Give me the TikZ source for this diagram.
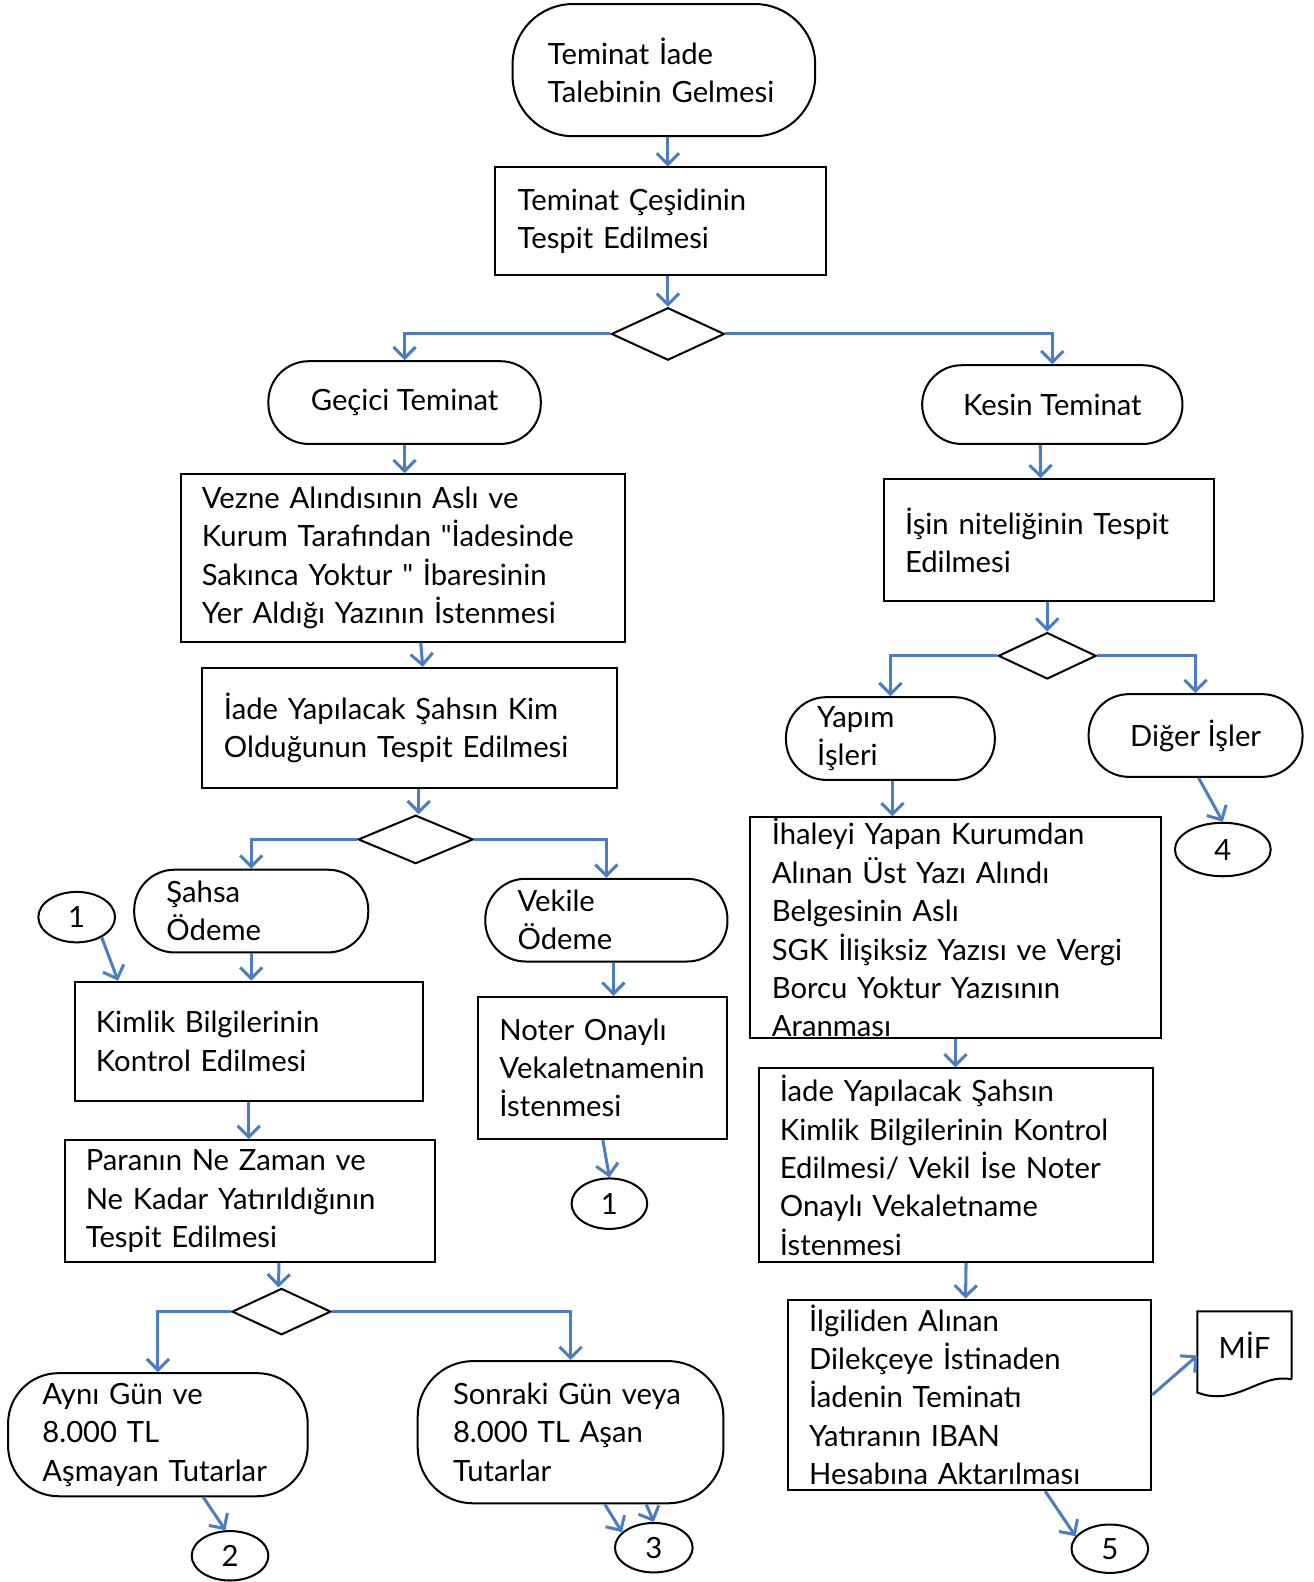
\documentclass[tikz,border=0pt]{standalone}
\usepackage{fontspec}
\setmainfont{Lato}
\usetikzlibrary{shapes.geometric,arrows.meta,calc}
\definecolor{flowblue}{RGB}{74,126,193}
\hyphenpenalty=10000
\exhyphenpenalty=10000
\tikzset{
  box/.style={draw, line width=2pt, rectangle, inner xsep=21pt, inner ysep=0pt, align=left},
  term/.style={draw, line width=2pt, rectangle, rounded corners=40pt, inner ysep=0pt, align=left},
  decision/.style={draw, line width=2pt, diamond, inner sep=0pt},
  conn/.style={draw, line width=2pt, ellipse, inner sep=0pt},
  arr/.style={draw=flowblue, line width=3pt, -{Straight Barb[length=11pt,width=22pt]}}
}
\begin{document}
\begin{tikzpicture}[x=1pt, y=-1pt, font=\fontsize{29}{38}\selectfont]
\useasboundingbox (0,0) rectangle (1302,1568);

\node[term, rounded corners=60pt, minimum height=131pt, inner xsep=35pt, text width=230pt] (start) at (658,69.5) {Teminat İade\\Talebinin Gelmesi};
\node[box, minimum height=107pt, inner xsep=22pt, text width=284pt] (cesit) at (655,219.5) {Teminat Çeşidinin\\Tespit Edilmesi};
\node[decision, minimum width=112pt, minimum height=52pt] (d1) at (662,331) {};

\node[term, minimum height=82pt, minimum width=270pt, align=center] (gecici) at (401,399) {Geçici Teminat};
\node[term, rounded corners=39pt, minimum height=78pt, minimum width=258pt, align=center] (kesin) at (1043,401) {Kesin Teminat};

\node[box, minimum height=166pt, text width=398pt] (vezne) at (399,553) {Vezne Alındısının Aslı ve\\Kurum Tarafından \textquotedbl İadesinde\\Sakınca Yoktur \textquotedbl{} İbaresinin\\Yer Aldığı Yazının İstenmesi};
\node[box, minimum height=119pt, inner xsep=22pt, text width=368pt] (iade) at (406,721.5) {İade Yapılacak Şahsın Kim\\Olduğunun Tespit Edilmesi};
\node[decision, minimum width=114pt, minimum height=48pt] (d2) at (412,832) {};

\node[term, minimum height=82pt, inner xsep=32pt, text width=168pt] (sahsa) at (249,903) {Şahsa\\Ödeme};
\node[term, minimum height=82pt, inner xsep=32pt, text width=176pt] (vekile) at (601,912) {Vekile\\Ödeme};
\node[conn, minimum width=76pt, minimum height=50pt] (one1) at (76,909) {1};

\node[box, minimum height=118pt, text width=303pt] (kimlik) at (246.5,1032) {Kimlik Bilgilerinin\\Kontrol Edilmesi};
\node[box, minimum height=141pt, inner xsep=21pt, text width=205pt] (noter) at (597.5,1058.5) {Noter Onaylı\\Vekaletnamenin\\İstenmesi};
\node[conn, minimum width=75pt, minimum height=50pt] (one2) at (604,1193) {1};

\node[box, minimum height=121pt, text width=325pt] (para) at (247.5,1190.5) {Paranın Ne Zaman ve\\Ne Kadar Yatırıldığının\\Tespit Edilmesi};
\node[decision, minimum width=98pt, minimum height=46pt] (d3) at (279,1300) {};

\node[term, rounded corners=50pt, minimum height=122pt, inner xsep=34pt, text width=229pt] (ayni) at (156.5,1422) {Aynı Gün ve\\8.000 TL\\Aşmayan Tutarlar};
\node[term, rounded corners=55pt, minimum height=141pt, inner xsep=35pt, text width=233pt] (sonraki) at (565.5,1419.5) {Sonraki Gün veya\\8.000 TL Aşan\\Tutarlar};
\node[conn, minimum width=76pt, minimum height=49pt] (two) at (228,1542) {2};
\node[conn, minimum width=77pt, minimum height=49pt] (three) at (648,1534) {3};

\node[box, minimum height=121pt, text width=285pt] (isin) at (1039.5,535.5) {İşin niteliğinin Tespit\\Edilmesi};
\node[decision, minimum width=97pt, minimum height=46pt] (d4) at (1038,650) {};

\node[term, minimum height=82pt, inner xsep=31pt, text width=145pt] (yapim) at (882.5,732) {Yapım\\İşleri};
\node[term, minimum height=82pt, minimum width=212pt, align=center] (diger) at (1185,729) {Diğer İşler};
\node[conn, minimum width=95pt, minimum height=53pt] (four) at (1212,842) {4};

\node[box, minimum height=219pt, inner xsep=22pt, text width=364pt] (ihale) at (947,919.5) {İhaleyi Yapan Kurumdan\\Alınan Üst Yazı Alındı\\Belgesinin Aslı\\SGK İlişiksiz Yazısı ve Vergi\\Borcu Yoktur Yazısının\\Aranması};
\node[box, minimum height=192pt, text width=349pt] (iade2) at (947.5,1155) {İade Yapılacak Şahsın\\Kimlik Bilgilerinin Kontrol\\Edilmesi/ Vekil İse Noter\\Onaylı Vekaletname\\İstenmesi};
\node[box, minimum height=189pt, text width=318pt] (ilgi) at (961,1382.5) {İlgiliden Alınan\\Dilekçeye İstinaden\\İadenin Teminatı\\Yatıranın IBAN\\Hesabına Aktarılması};
\node[rectangle, inner sep=0pt, minimum width=93pt, minimum height=67pt] (mif) at (1233.5,1333.5) {MİF};
\draw[line width=2pt, line join=miter] (mif.south east) -- (mif.north east) -- (mif.north west) -- ($(mif.south west)+(0,13)$)
  .. controls (1225,1395) and (1250,1360) .. (mif.south east);
\node[conn, minimum width=76pt, minimum height=48pt] (five) at (1100,1535) {5};

\draw[arr] (start.south -| d1) -- (cesit.north -| d1);
\draw[arr] (cesit.south -| d1) -- (d1.north);
\draw[arr] (d1.west) -| (gecici.north);
\draw[arr] (d1.east) -| (kesin.north);
\draw[arr] (gecici.south) -- (gecici.south |- vezne.north);
\draw[arr] ($(vezne.south)+(18,0)$) -- ($(iade.north)+(13,0)$);
\draw[arr] ($(iade.south)+(9,0)$) -- ($(d2.north)+(3,0)$);
\draw[arr] (d2.west) -| (sahsa.north);
\draw[arr] (d2.east) -| (vekile.north);
\draw[arr] (sahsa.south) -- (sahsa.south |- kimlik.north);
\draw[arr] ($(vekile.south)+(7,0)$) -- ($(vekile.south |- noter.north)+(7,0)$);
\draw[arr] (noter.south) -- (one2.north);
\draw[arr] (one1.-39) -- ($(kimlik.north west)+(44,0)$);
\draw[arr] (kimlik.south) -- (kimlik.south |- para.north);
\draw[arr] ($(para.south)+(29,0)$) -- ($(d3.north)+(-3,0)$);
\draw[arr] (d3.west) -| (ayni.north);
\draw[arr] (d3.east) -| (sonraki.north);
\draw[arr] ($(ayni.south)+(45,0)$) -- (two.100);
\draw[arr] ($(sonraki.south)+(34,0)$) -- (three.154);
\draw[arr] ($(sonraki.south)+(75,0)$) -- (three.north);
\draw[arr] ($(kesin.south)+(-12,0)$) -- ($(isin.north)+(-8,0)$);
\draw[arr] (isin.south -| d4) -- (d4.north);
\draw[arr] (d4.west) -| (yapim.north);
\draw[arr] (d4.east) -| (diger.north);
\draw[arr] ($(diger.south)+(3,0)$) -- (four.north);
\draw[arr] ($(yapim.south)+(2,0)$) -- ($(yapim.south |- ihale.north)+(2,0)$);
\draw[arr] (ihale.south) -- (ihale.south |- iade2.north);
\draw[arr] ($(iade2.south)+(10,0)$) -- ($(ilgi.north)+(-4,0)$);
\draw[arr] ($(ilgi.south)+(75,0)$) -- (five.160);
\draw[arr] (ilgi.east) -- ($(mif.west)+(0,10)$);
\end{tikzpicture}
\end{document}
